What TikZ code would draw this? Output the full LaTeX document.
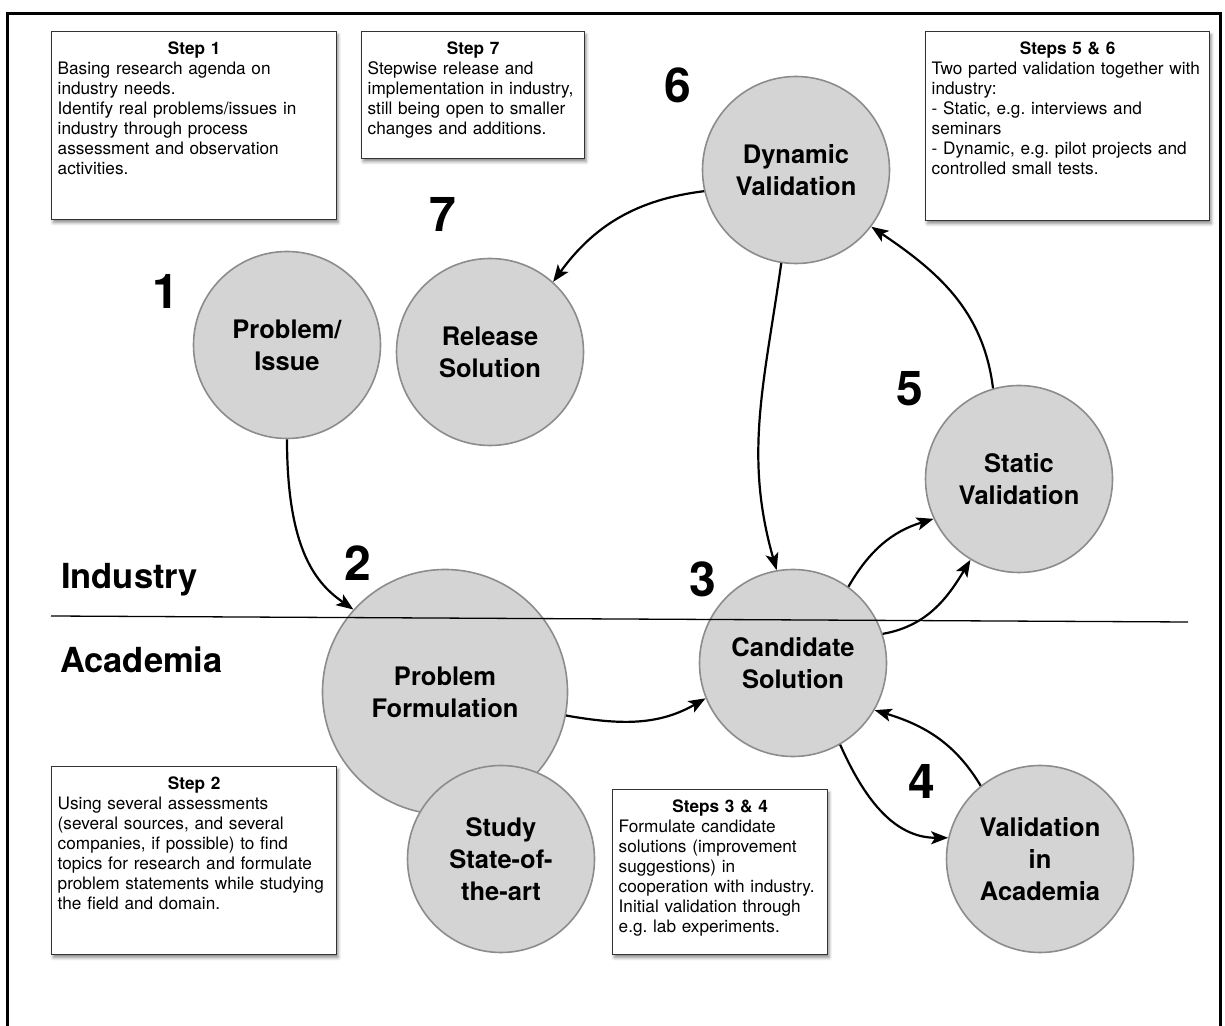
\documentclass[tikz,border=0pt]{standalone}
\usepackage{fontspec}
\setmainfont{TeX Gyre Heros}
\usetikzlibrary{arrows.meta,shadows.blur}
\frenchspacing

\definecolor{stagefill}{gray}{0.83}
\definecolor{stagerim}{gray}{0.55}
\definecolor{notegray}{gray}{0.2}

\begin{document}
\begin{tikzpicture}[x=1pt, y=1pt,
		stage/.style={circle, draw=stagerim, line width=1.6pt, fill=stagefill, minimum size=187pt, inner sep=0pt, align=center, font=\fontsize{25.5}{32}\selectfont\bfseries},
		stepno/.style={inner sep=0pt, font=\fontsize{48}{48}\selectfont\bfseries},
		side/.style={anchor=west, inner sep=0pt, font=\fontsize{34.5}{36}\selectfont\bfseries},
		note/.style={draw=notegray, line width=1.4pt, fill=white, anchor=north west, align=left, inner xsep=6pt, inner ysep=9pt, text height=14pt, font=\fontsize{17.2}{20}\selectfont, blur shadow={shadow xshift=1.5pt, shadow yshift=-3pt, shadow blur radius=3pt, shadow opacity=45}},
		flow/.style={-{Stealth[length=17pt, width=13pt, inset=4pt]}, line width=2.2pt}]
		\useasboundingbox (0,0) rectangle (1225,1025);
		\draw[line width=3pt] (7,1011) rectangle (1220,-10);

		% notes
		\node[note, text width=273pt, text depth=156pt] (note1) at (51,994) {{\centering\bfseries Step 1\par}Basing research agenda on\\industry needs.\\Identify real problems/issues in\\industry through process\\assessment and observation\\activities.};
		\node[note, text width=211pt, text depth=95pt] (note7) at (361,994) {{\centering\bfseries Step 7\par}Stepwise release and\\implementation in industry,\\still being open to smaller\\changes and additions.};
		\node[note, text width=272pt, text depth=157pt] (note56) at (925,994) {{\centering\bfseries Steps 5 \& 6\par}Two parted validation together with\\industry:\\- Static, e.g. interviews and\\seminars\\- Dynamic, e.g. pilot projects and\\controlled small tests.};
		\node[note, text width=273pt, text depth=156pt] (note2) at (51,259) {{\centering\bfseries Step 2\par}Using several assessments\\(several sources, and several\\companies, if possible) to find\\topics for research and formulate\\problem statements while studying\\the field and domain.};
		\node[note, text width=203pt, text depth=133pt] (note34) at (612,236) {{\centering\bfseries Steps 3 \& 4\par}Formulate candidate\\solutions (improvement\\suggestions) in\\cooperation with industry.\\Initial validation through\\e.g. lab experiments.};

		% stages
		\node[stage] (pi) at (287,680) {Problem/\\Issue};
		\node[stage] (rel) at (490,673) {Release\\Solution};
		\node[stage] (dyn) at (796,855) {Dynamic\\Validation};
		\node[stage] (stat) at (1019,546) {Static\\Validation};
		\node[stage] (cand) at (793,362) {Candidate\\Solution};
		\node[stage] (vac) at (1040,166) {Validation\\in\\Academia};
		\node[stage, minimum size=245pt] (pform) at (445,333) {Problem\\Formulation};
		\node[stage] (soa) at (501,166) {Study\\State-of-\\the-art};

		\node[stepno] (n1) at (166,734) {1};
		\node[stepno] (n2) at (358,462) {2};
		\node[stepno] (n3) at (703,446) {3};
		\node[stepno] (n4) at (922,244) {4};
		\node[stepno] (n5) at (910,636) {5};
		\node[stepno] (n6) at (678,940) {6};
		\node[stepno] (n7) at (443,811) {7};

		% industry / academia border
		\coordinate (borderL) at (51,409);
		\coordinate (borderR) at (1188,403);
		\draw[line width=1.3pt] (borderL) -- (borderR);
		\node[side] (ind) at (61,445) {Industry};
		\node[side] (acad) at (60,365) {Academia};

		\draw[flow] (pi.-90) to[out=-90, in=145, out looseness=1.6, in looseness=0.6] (pform.138);
		\draw[flow] (pform.-11) to[out=-10, in=210] (cand.202);
		\draw[flow] (dyn.-99) to[out=-98, in=106] (cand.100);
		\draw[flow] (cand.54) to[out=60, in=197] (stat.205);
		\draw[flow] (cand.18) to[out=10, in=239] (stat.239);
		\draw[flow] (cand.-60) to[out=-66, in=180] (vac.167);
		\draw[flow] (vac.129) to[out=121, in=-17] (cand.-30);
		\draw[flow] (stat.106) to[out=97, in=-34] (dyn.-37);
		\draw[flow] (dyn.193) to[out=187, in=54] (rel.48);
	\end{tikzpicture}
\end{document}
